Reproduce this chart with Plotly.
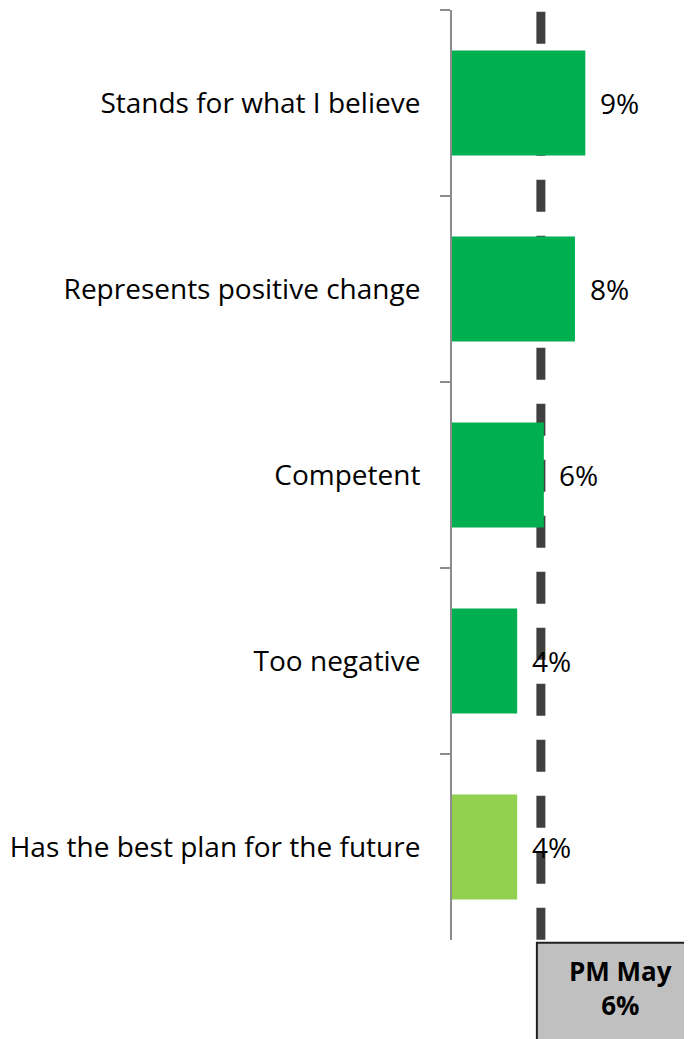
import plotly.graph_objects as go

categories = ["Stands for what I believe", "Represents positive change", "Competent",
              "Too negative", "Has the best plan for the future"]
values = [9, 8.3, 6.2, 4.4, 4.4]
labels = ["9%", "8%", "6%", "4%", "4%"]
bar_colors = ["#00B050", "#00B050", "#00B050", "#00B050", "#92D050"]
pm_value = 6
pm_label = "PM May<br>6%"

FONT = "Open Sans"

fig = go.Figure()
fig.add_trace(go.Bar(
    y=categories, x=values, orientation="h",
    marker=dict(color=bar_colors, line=dict(width=0)),
    width=0.565, hoverinfo="skip",
))

for c, v, t in zip(categories, values, labels):
    fig.add_annotation(x=v, y=c, text=t, showarrow=False, xanchor="left",
                       xshift=13, font=dict(family=FONT, size=28, color="#000"))

# dashed PM reference line
fig.add_shape(type="line", xref="x", yref="paper", x0=pm_value, x1=pm_value,
              y0=-0.06, y1=1.0, layer="below",
              line=dict(color="#404040", width=9, dash="32px,24px"))
# PM box
fig.add_shape(type="rect", xref="x", yref="paper", xsizemode="pixel",
              xanchor=pm_value, x0=-4, x1=200, y0=-0.003, y1=-0.2,
              fillcolor="#C0C0C0", line=dict(color="#202020", width=2), layer="above")
fig.add_annotation(xref="x", yref="paper", x=pm_value, y=-0.052, xshift=80,
                   yanchor="middle", xanchor="center",
                   text=pm_label, showarrow=False, align="center",
                   font=dict(family=FONT, size=26, color="#000", weight="bold"))

fig.update_layout(
    width=684, height=1031,
    margin=dict(l=444, r=0, t=2, b=99),
    plot_bgcolor="white", paper_bgcolor="white",
    showlegend=False, bargap=0.435,
    font=dict(family=FONT, size=28, color="#000"),
)
fig.update_xaxes(range=[0, 16.2], visible=False)
fig.update_yaxes(autorange="reversed", showline=True, linecolor="#8C8C8C", linewidth=2,
                 ticks="outside", tickson="boundaries", ticklen=10, tickcolor="#8C8C8C",
                 tickwidth=2, showgrid=False, ticklabelstandoff=24,
                 tickfont=dict(family=FONT, size=28, color="#000"))

fig.write_html("out.html")
